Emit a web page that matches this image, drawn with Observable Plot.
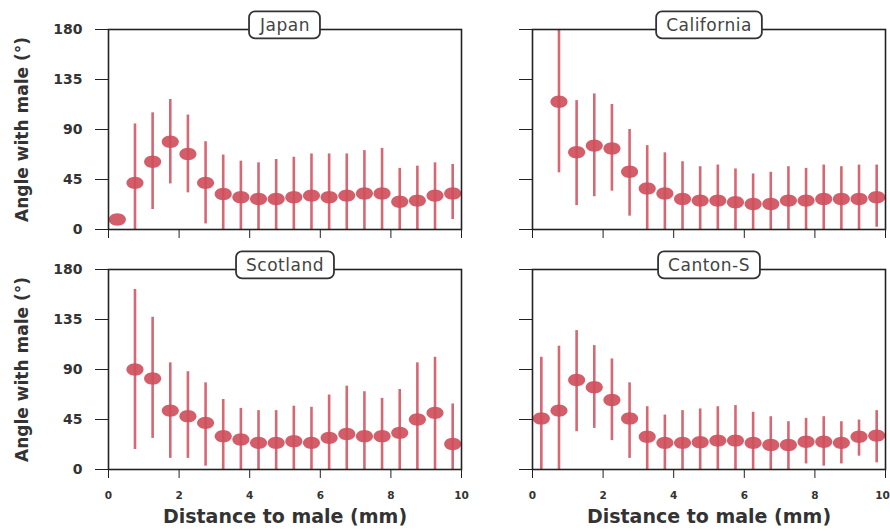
<!DOCTYPE html>
<html><head><meta charset="utf-8">
<script src="https://cdn.jsdelivr.net/npm/d3@7"></script>
<script src="https://cdn.jsdelivr.net/npm/@observablehq/plot@0.6"></script>
<style>
body{margin:0;background:#fff;}
#wrap{position:relative;width:890px;height:531px;overflow:hidden;background:#fff;}
#wrap > svg{position:absolute;}
</style></head><body><div id="wrap"></div>
<script>
// Bin centres (mm)
const distances = [0.25,0.75,1.25,1.75,2.25,2.75,3.25,3.75,4.25,4.75,5.25,5.75,6.25,6.75,7.25,7.75,8.25,8.75,9.25,9.75];
const xTicks = [0,2,4,6,8,10];
const yTicks = [0,45,90,135,180];
const strains = ["Japan","California","Scotland","Canton-S"];

// Mean angle and error-bar ends (degrees)
const japanMean = [9,42,61,79,68,42,32,29,27.5,27.5,29,30.5,29,30.5,32.5,32.5,25,26,30.5,32.5];
const japanHigh = [null,95,105,117,103,79,67,61.5,60,63,65,68,68,68,71,73,55,57,60,58.5];
const japanLow  = [null,0,18,41,33,5,0,0,0,0,0,0,0,0,0,0,0,0,0,9];

const californiaMean = [null,115,69.5,75.5,73,52,37,32.5,27.5,26,26,24.5,23,23,26,26,27.5,27.5,27.5,29];
const californiaHigh = [null,180,116,122,112.5,90,75.5,69,61,56.5,58,54.5,50,51.5,56.5,55,58,56.5,58,58];
const californiaLow  = [null,51,21.5,29.5,34.5,12,0,0,0,0,0,0,0,0,0,0,0,0,0,2];

const scotlandMean = [null,90,82,53,48,42,30,27,24,24,25.5,24,28.5,32,30,30,33,45,51,23];
const scotlandHigh = [null,162,137,96,88,78,63,55,53,53,57,56,67,75,70,64,72,96,101,59];
const scotlandLow  = [null,18,28,10,10,3,0,0,0,0,0,0,0,0,0,0,0,0,0,0];

const cantonMean = [46,53,80.5,74,62.5,46,29.5,24,24,24.5,26,26,24,22,22,25,25,24,29.5,30.5];
const cantonHigh = [101,111,125,111.5,99.5,78,56.5,49,53,54.5,56.5,57.5,51.5,47.5,43,46,47.5,43,44.5,53];
const cantonLow  = [0,0,34,37,26,10,0,0,0,0,0,0,0,0,0,5,3,5,12,6];

const series = [
  [japanMean, japanLow, japanHigh],
  [californiaMean, californiaLow, californiaHigh],
  [scotlandMean, scotlandLow, scotlandHigh],
  [cantonMean, cantonLow, cantonHigh]
];

const dotColor = "#cf4f5c";
const barColor = "#d45f6b";

// ellipse-shaped marker
const ellipse = {
  draw(ctx, size) {
    const r = Math.sqrt(size / Math.PI), rx = r * 1.38, ry = r, k = 0.5523;
    ctx.moveTo(rx, 0);
    ctx.bezierCurveTo(rx, ry * k, rx * k, ry, 0, ry);
    ctx.bezierCurveTo(-rx * k, ry, -rx, ry * k, -rx, 0);
    ctx.bezierCurveTo(-rx, -ry * k, -rx * k, -ry, 0, -ry);
    ctx.bezierCurveTo(rx * k, -ry, rx, -ry * k, rx, 0);
    ctx.closePath();
  }
};

const wrap = document.getElementById("wrap");

strains.forEach((name, i) => {
  const col = i % 2, row = Math.floor(i / 2);
  const [mean, low, high] = series[i];
  const rows = distances.map((x, j) => ({x, mean: mean[j], lo: low[j], hi: high[j]}));
  const left = col === 0;
  const bottom = row === 1;
  const width = left ? 470 : 445;
  const height = bottom ? 291 : 250;
  const marks = [
    Plot.ruleX(rows.filter(d => d.lo != null), {x: "x", y1: "lo", y2: "hi", stroke: barColor, strokeWidth: 2.6, strokeOpacity: 0.95, clip: true}),
    Plot.dot(rows.filter(d => d.mean != null), {x: "x", y: "mean", r: 6.2, symbol: ellipse, fill: dotColor, fillOpacity: 0.92, stroke: "none"}),
    Plot.axisY({ticks: yTicks, tickSize: 13, tickPadding: 13, fontSize: 14, fontWeight: "bold", fill: "#333",
      tickFormat: left ? (d => String(d)) : (() => ""), label: null}),
    Plot.axisX({ticks: xTicks, tickSize: 9, tickPadding: 13, fontSize: 10.5, fontWeight: "bold", fill: "#333",
      tickFormat: bottom ? (d => String(d)) : (() => ""), label: null}),
    Plot.frame({stroke: "#222", strokeWidth: 1.6}),
    Plot.text([name], {frameAnchor: "top", dy: -4, text: d => d, fontSize: 17, fill: "#444", lineAnchor: "middle"})
  ];
  if (left) marks.push(Plot.axisY({ticks: [], label: "Angle with male (°)", labelAnchor: "center", labelOffset: 93,
    labelArrow: "none", fontSize: 17, fontWeight: "bold", fill: "#333"}));
  if (bottom) marks.push(Plot.axisX({ticks: [], label: "Distance to male (mm)", labelAnchor: "center", labelOffset: 53,
    labelArrow: "none", fontSize: 19, fontWeight: "bold", fill: "#333"}));
  const svg = Plot.plot({
    width, height,
    marginLeft: left ? 108 : 87,
    marginRight: left ? 9 : 5,
    marginTop: 29,
    marginBottom: bottom ? 62 : 21,
    x: {domain: [0, 10]},
    y: {domain: [0, 180]},
    style: {fontFamily: "DejaVu Sans", color: "#222", background: "transparent", overflow: "visible"},
    marks
  });
  svg.style.left = (left ? 0 : 445) + "px";
  svg.style.top = (bottom ? 240 : 0) + "px";
  wrap.appendChild(svg);
  // keep the last x tick label of the right column inside the page
  if (!left && bottom) {
    const labels = svg.querySelectorAll('g[aria-label="x-axis tick label"] text');
    if (labels.length) labels[labels.length - 1].setAttribute("dx", -3);
  }
  // rounded box behind the strain title
  svg.querySelectorAll('g[aria-label="text"] text').forEach(t => {
    t.style.letterSpacing = "0.5px";
    const bb = t.getBBox();
    const cy = bb.y + bb.height / 2;
    const rect = document.createElementNS("http://www.w3.org/2000/svg", "rect");
    rect.setAttribute("x", bb.x - 10);
    rect.setAttribute("width", bb.width + 20);
    rect.setAttribute("y", cy - 13.5);
    rect.setAttribute("height", 27);
    rect.setAttribute("rx", 6);
    rect.setAttribute("fill", "white");
    rect.setAttribute("stroke", "#333");
    rect.setAttribute("stroke-width", 1.8);
    const tr = t.getAttribute("transform");
    if (tr) rect.setAttribute("transform", tr);
    t.parentNode.insertBefore(rect, t);
  });
});
</script></body></html>
